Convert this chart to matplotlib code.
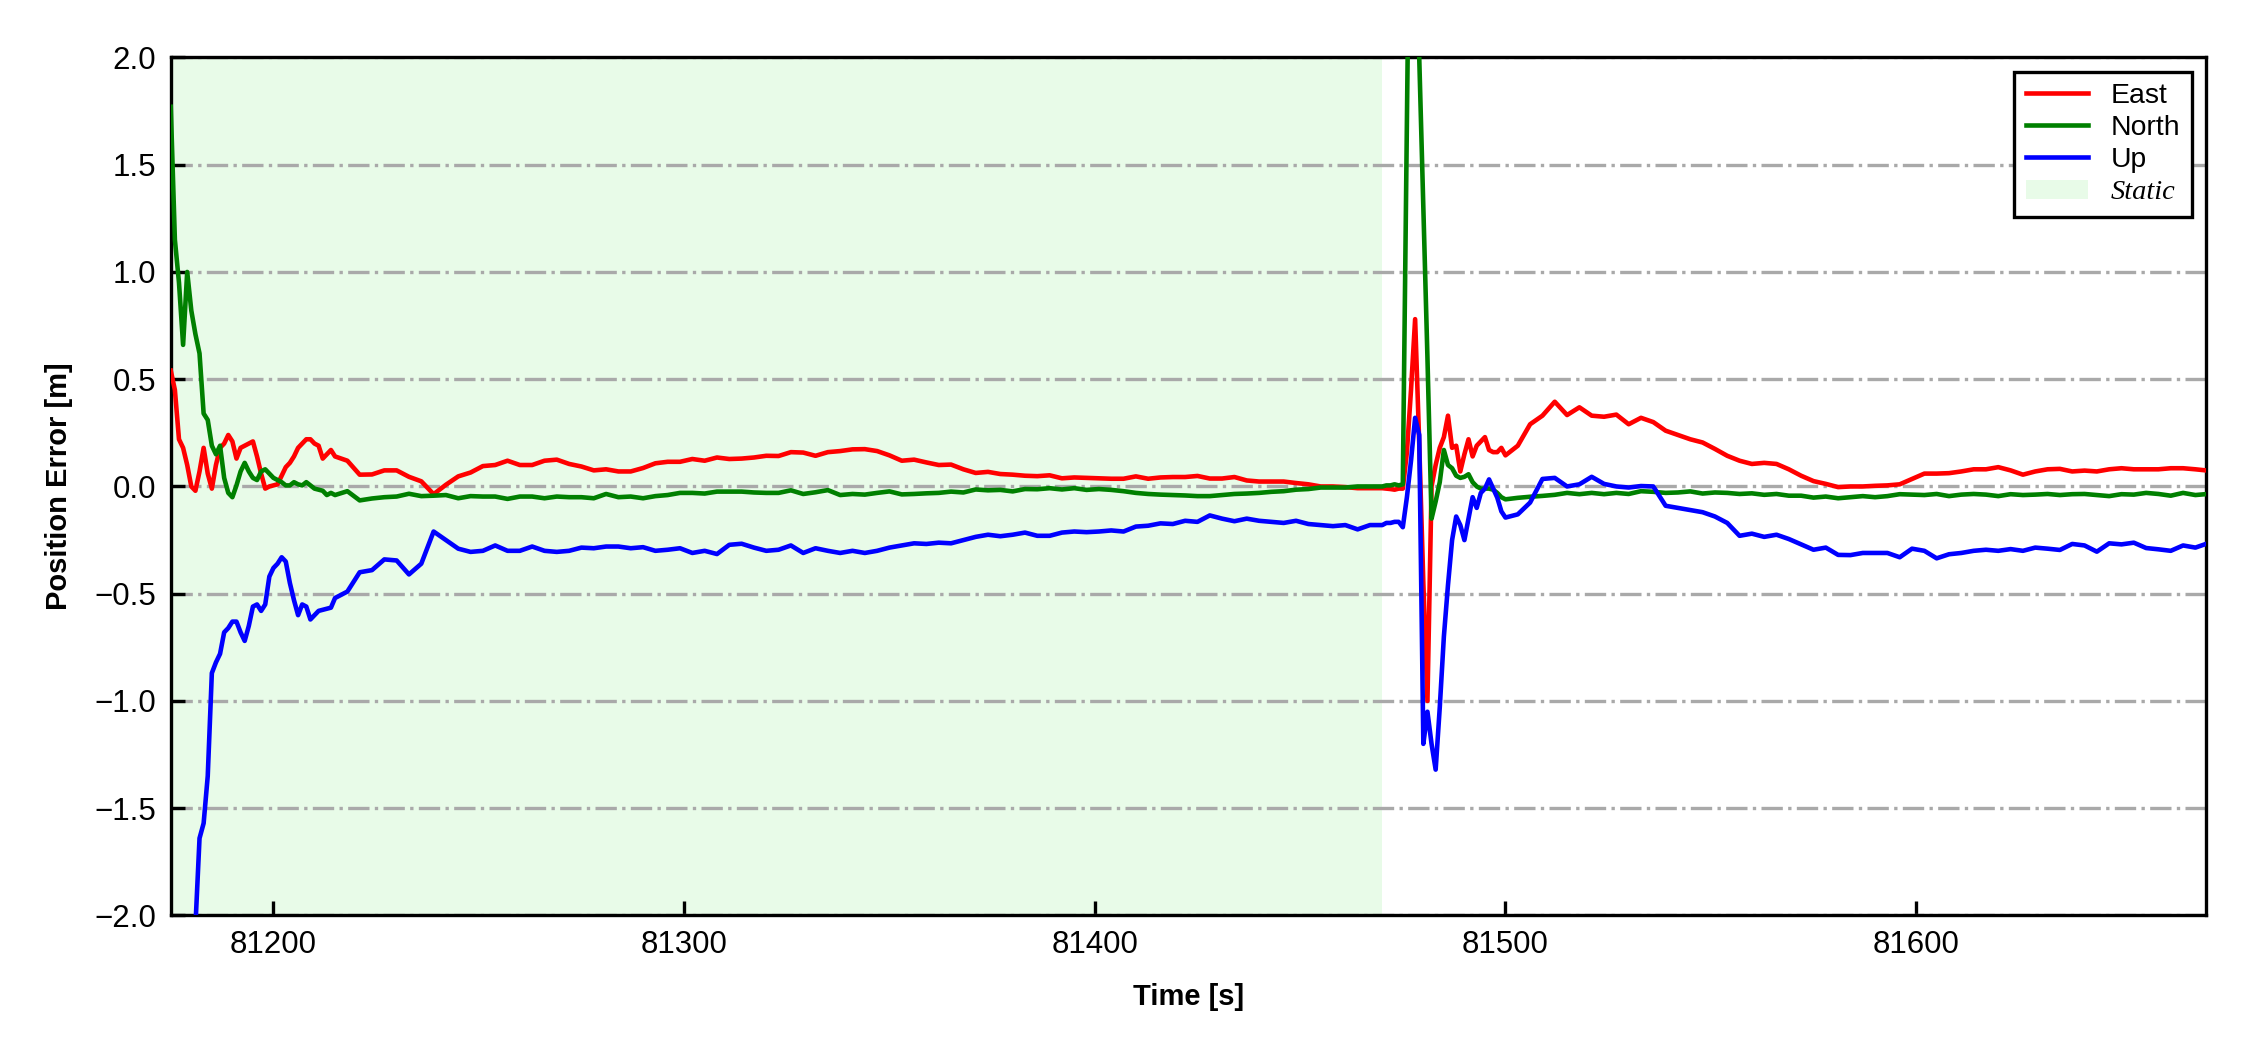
import numpy as np
import matplotlib
matplotlib.use("Agg")
import matplotlib.pyplot as plt

plt.rcParams["font.family"] = ["Liberation Sans", "DejaVu Sans"]

# ---- time axis (s): 1 s sampling near transients, 3 s elsewhere ----
time = np.concatenate([
    np.arange(81175, 81216, 1),
    np.arange(81218, 81470, 3),
    np.arange(81470, 81501, 1),
    np.arange(81503, 81672, 3),
])

east = [
    # 81175-81215
    0.54, 0.45, 0.22, 0.18, 0.1, 0.0, -0.02, 0.07, 0.18, 0.06, -0.01, 0.1, 0.18, 0.2, 0.24,
    0.21, 0.13, 0.18, 0.19, 0.2, 0.21, 0.14, 0.06, -0.01, 0.0, 0.005, 0.01, 0.05, 0.09, 0.11,
    0.14, 0.18, 0.2, 0.22, 0.22, 0.2, 0.19, 0.13, 0.15, 0.17, 0.14,
    # 81218-81467
    0.12, 0.055, 0.056, 0.075, 0.075, 0.045, 0.024, -0.036, 0.008, 0.047, 0.065, 0.095, 0.1,
    0.12, 0.1, 0.1, 0.12, 0.125, 0.105, 0.093, 0.075, 0.08, 0.07, 0.07, 0.086, 0.108, 0.115,
    0.115, 0.128, 0.12, 0.135, 0.128, 0.13,
    0.135, 0.143, 0.142, 0.16, 0.158, 0.143, 0.16, 0.165, 0.173, 0.174, 0.165, 0.145, 0.12,
    0.125, 0.112, 0.1, 0.102, 0.08, 0.063, 0.068, 0.058, 0.055, 0.05, 0.048, 0.052, 0.038,
    0.042, 0.04, 0.038, 0.036, 0.036, 0.047, 0.036, 0.042,
    0.044, 0.044, 0.049, 0.037, 0.037, 0.044, 0.028, 0.023, 0.023, 0.023, 0.016, 0.01, 0.0,
    0.0, -0.003, -0.008, -0.008,
    # 81470-81500
    -0.008, -0.01, -0.012, -0.015, -0.01, -0.01, 0.16, 0.45, 0.78, 0.2, -0.45, -1.0, 0.0, 0.1,
    0.18, 0.23, 0.33, 0.18, 0.19, 0.07, 0.15, 0.22, 0.14, 0.19, 0.21, 0.23, 0.17, 0.16, 0.16,
    0.18, 0.145,
    # 81503-81671
    0.19, 0.29, 0.33, 0.395, 0.333, 0.369, 0.33, 0.325, 0.335, 0.29, 0.32, 0.3, 0.26, 0.24,
    0.22, 0.205, 0.175, 0.143, 0.12, 0.105, 0.11, 0.105, 0.08, 0.05, 0.025, 0.012, -0.003, 0.0,
    0.0, 0.003, 0.005, 0.01, 0.035, 0.06, 0.06, 0.062, 0.07, 0.08, 0.08, 0.09, 0.075, 0.055,
    0.07, 0.08, 0.082, 0.07, 0.074, 0.07, 0.08, 0.085, 0.08, 0.08, 0.08, 0.085, 0.085, 0.08,
    0.074,
]

north = [
    # 81175-81215
    1.77, 1.15, 0.95, 0.66, 1.0, 0.82, 0.71, 0.62, 0.34, 0.31, 0.19, 0.15, 0.19, 0.04, -0.03,
    -0.05, 0.005, 0.07, 0.11, 0.07, 0.04, 0.03, 0.07, 0.08, 0.06, 0.04, 0.03, 0.02, 0.005,
    0.005, 0.02, 0.01, 0.005, 0.02, 0.005, -0.01, -0.015, -0.02, -0.04, -0.03, -0.04,
    # 81218-81467
    -0.022, -0.065, -0.056, -0.05, -0.047, -0.034, -0.045, -0.043, -0.04, -0.055, -0.045,
    -0.047, -0.047, -0.058, -0.047, -0.047, -0.055, -0.047, -0.05, -0.05, -0.055, -0.035,
    -0.05, -0.047, -0.055, -0.045, -0.04, -0.03, -0.03, -0.033, -0.024, -0.024, -0.024,
    -0.028, -0.03, -0.03, -0.018, -0.035, -0.027, -0.017, -0.04, -0.035, -0.038, -0.03,
    -0.023, -0.037, -0.035, -0.032, -0.03, -0.024, -0.028, -0.014, -0.018, -0.016, -0.023,
    -0.012, -0.013, -0.008, -0.014, -0.008, -0.016, -0.012, -0.016, -0.022, -0.03, -0.035,
    -0.038,
    -0.04, -0.042, -0.045, -0.045, -0.04, -0.035, -0.033, -0.03, -0.025, -0.022, -0.015,
    -0.012, -0.005, -0.005, -0.005, 0.0, 0.0,
    # 81470-81500
    0.0, 0.005, 0.005, 0.01, 0.005, 0.01, 1.7, 3.4, 2.7, 2.0, 1.3, 0.6, -0.15, -0.07, 0.02,
    0.17, 0.1, 0.085, 0.05, 0.04, 0.045, 0.057, 0.02, 0.0, -0.01, -0.01, -0.01, -0.015,
    -0.03, -0.05, -0.06,
    # 81503-81671
    -0.053, -0.048, -0.044, -0.039, -0.03, -0.036, -0.03, -0.036, -0.03, -0.035, -0.022,
    -0.025, -0.03, -0.028, -0.023, -0.033, -0.028, -0.03, -0.035, -0.032, -0.039, -0.035,
    -0.043, -0.043, -0.052, -0.047, -0.055, -0.05,
    -0.045, -0.05, -0.045, -0.036, -0.038, -0.04, -0.035, -0.045, -0.038, -0.035, -0.038,
    -0.045, -0.036, -0.04, -0.038, -0.035, -0.04, -0.036, -0.035, -0.04, -0.045, -0.036,
    -0.038, -0.03, -0.035, -0.043, -0.03, -0.04, -0.035,
]

up = [
    # 81175-81215
    -4.5, -4.2, -3.9, -3.5, -3.1, -2.6, -2.05, -1.64, -1.57, -1.35, -0.87, -0.82, -0.78,
    -0.68, -0.66, -0.63, -0.63, -0.68, -0.72, -0.65, -0.56, -0.55, -0.58, -0.55, -0.42,
    -0.38, -0.36, -0.33, -0.35, -0.45, -0.53, -0.6, -0.55, -0.56, -0.62, -0.6, -0.58,
    -0.575, -0.57, -0.565, -0.52,
    # 81218-81467
    -0.49, -0.4, -0.39, -0.34, -0.345, -0.41, -0.36, -0.21, -0.25, -0.29, -0.305, -0.3,
    -0.275, -0.3, -0.3, -0.28, -0.3, -0.305, -0.3, -0.285, -0.288, -0.28, -0.28, -0.288,
    -0.283, -0.3, -0.295, -0.288, -0.31, -0.3, -0.315, -0.272, -0.267,
    -0.285, -0.3, -0.295, -0.275, -0.31, -0.288, -0.3, -0.31, -0.3, -0.31, -0.3, -0.285,
    -0.275, -0.265, -0.268, -0.262, -0.265, -0.25, -0.235, -0.225, -0.232, -0.225, -0.215,
    -0.23, -0.23, -0.215, -0.21, -0.213, -0.21, -0.205, -0.21, -0.187, -0.183, -0.172,
    -0.175, -0.16, -0.165, -0.135, -0.15, -0.162, -0.15, -0.16, -0.165, -0.17, -0.16,
    -0.175, -0.18, -0.185, -0.18, -0.2, -0.18,
    # 81470-81500
    -0.18, -0.17, -0.17, -0.165, -0.165, -0.19, -0.05, 0.12, 0.32, 0.24, -1.2, -1.05, -1.2,
    -1.32, -1.03, -0.7, -0.46, -0.25, -0.14, -0.18, -0.25, -0.15, -0.05, -0.1, -0.03, -0.01,
    0.033, -0.01, -0.052, -0.116, -0.145,
    # 81503-81671
    -0.13, -0.075, 0.035, 0.04, 0.0, 0.01, 0.045, 0.012, 0.0, -0.005, 0.002, 0.0, -0.09,
    -0.1, -0.11, -0.12, -0.14, -0.17, -0.23, -0.22, -0.235, -0.225, -0.245, -0.27, -0.295,
    -0.285, -0.319, -0.32,
    -0.31, -0.31, -0.31, -0.33, -0.29, -0.3, -0.335, -0.316, -0.31, -0.3, -0.295, -0.3,
    -0.292, -0.3, -0.285, -0.29, -0.296, -0.268, -0.275, -0.304, -0.265, -0.27, -0.262,
    -0.287, -0.293, -0.3, -0.275, -0.285, -0.265,
]

static_span = [81175, 81470]
x_limits = [81175, 81670.5]
y_limits = [-2.0, 2.0]
y_ticks = [-2.0, -1.5, -1.0, -0.5, 0.0, 0.5, 1.0, 1.5, 2.0]
x_ticks = [81200, 81300, 81400, 81500, 81600]

fig = plt.figure(figsize=(7.5, 3.5), dpi=300)
ax = fig.add_axes([0.0759, 0.1281, 0.9044, 0.8172])

ax.axvspan(static_span[0], static_span[1], facecolor="lightgreen", alpha=0.2,
           lw=0, label="Static", zorder=0)
ax.plot(time, east, color="red", lw=1.1, label="East", zorder=3)
ax.plot(time, north, color="green", lw=1.1, label="North", zorder=3)
ax.plot(time, up, color="blue", lw=1.1, label="Up", zorder=3)

ax.set_xlim(*x_limits)
ax.set_ylim(*y_limits)
ax.set_xticks(x_ticks)
ax.set_yticks(y_ticks)
ax.yaxis.grid(True, linestyle="-.", color="darkgray", lw=0.8, zorder=1)
ax.set_axisbelow(True)

ax.tick_params(direction="in", length=3.4, width=0.8, labelsize=7.5, pad=3.5,
               top=False, right=False)
for s in ax.spines.values():
    s.set_linewidth(0.8)

ax.set_xlabel("Time [s]", fontsize=7, fontweight="bold", labelpad=5.5)
ax.set_ylabel("Position Error [m]", fontsize=7, fontweight="bold", labelpad=5)

handles, labels = ax.get_legend_handles_labels()
order = [labels.index(n) for n in ["East", "North", "Up", "Static"]]
leg = ax.legend([handles[i] for i in order], [labels[i] for i in order],
                loc="upper right", fontsize=6.8, fancybox=False, framealpha=1,
                edgecolor="black", labelspacing=0.22, handlelength=2.2,
                borderaxespad=0.5)
leg.get_frame().set_linewidth(0.8)
for txt in leg.get_texts():
    if txt.get_text() == "Static":
        txt.set_fontfamily(["Liberation Serif", "DejaVu Serif"])
        txt.set_fontstyle("italic")

fig.savefig("out.png", dpi=300)
